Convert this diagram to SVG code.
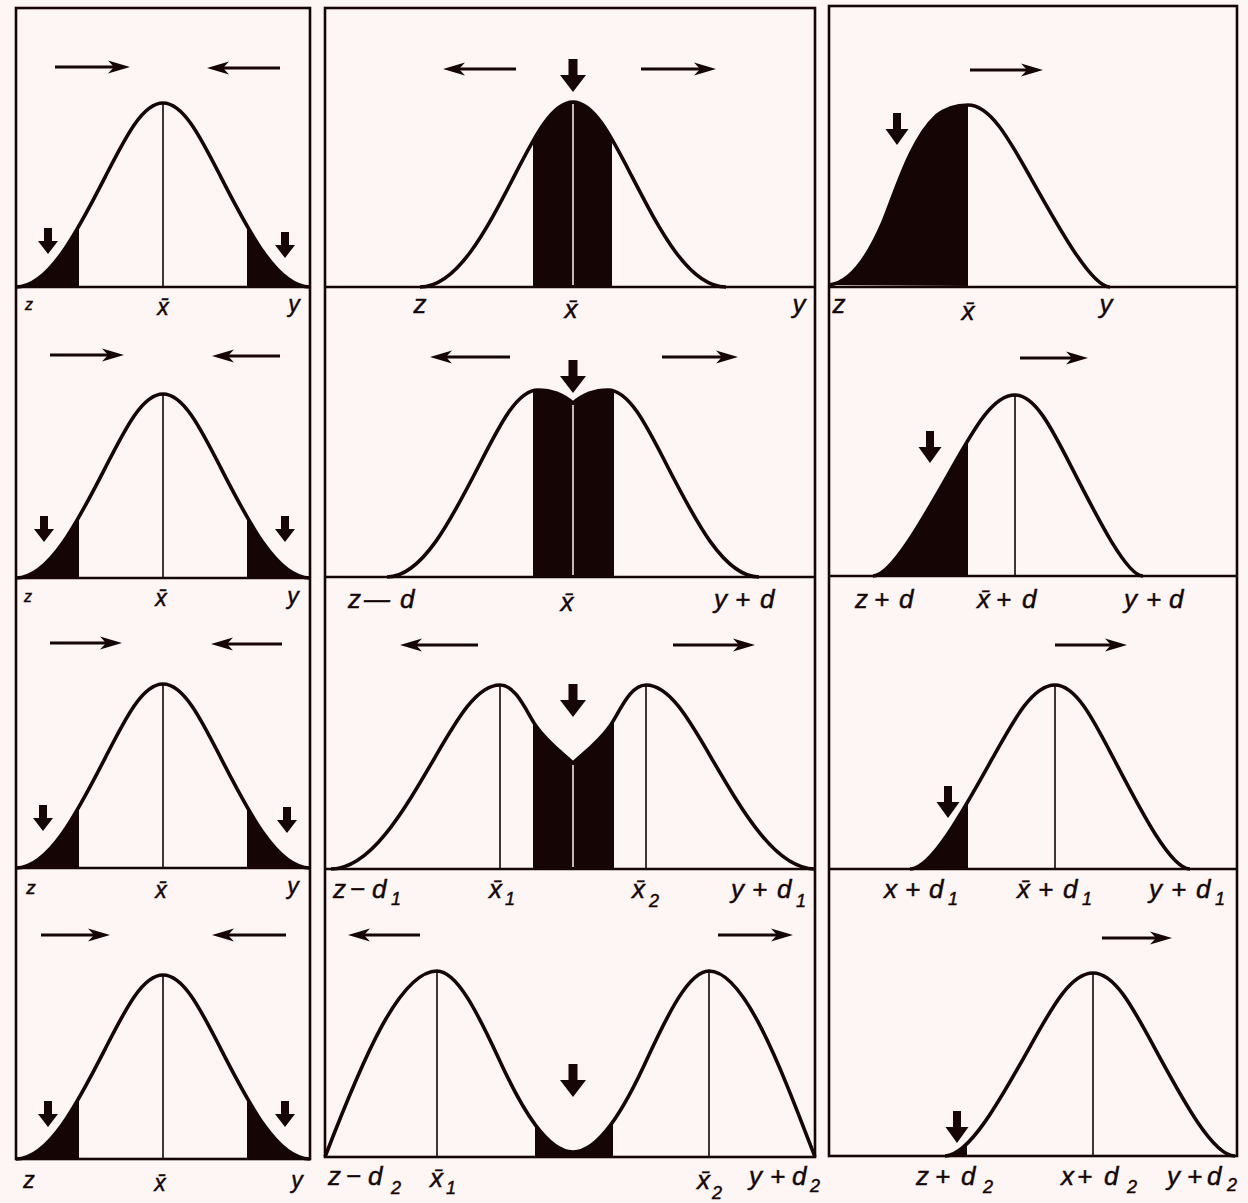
<svg xmlns="http://www.w3.org/2000/svg" width="1248" height="1203" viewBox="0 0 1248 1203">
<style>
.frame{fill:none;stroke:#150505;stroke-width:2.6}
.rule{stroke:#150505;stroke-width:2.6}
.curve{fill:none;stroke:#150505;stroke-width:3.6;stroke-linejoin:round}
.shade{fill:#150505;stroke:none}
.mean{stroke:#150505;stroke-width:1.6}
.gap{stroke:#f6e4e4;stroke-width:1.6}
.harrow{stroke:#150505;stroke-width:3;fill:none;marker-end:url(#ah)}
.dn{fill:#150505}
.lbl{font-family:"Liberation Sans",Arial,sans-serif;font-style:italic;font-size:26px;fill:#150505;stroke:#150505;stroke-width:0.45}
.sm{font-size:16px}
.md{font-size:23px}
.sub{font-size:18px}
</style>
<defs>
<marker id="ah" viewBox="-22 -7 24 14" refX="-8" refY="0" markerWidth="24" markerHeight="14" markerUnits="userSpaceOnUse" orient="auto">
<path d="M0,0 L-22,-6.5 L-16,0 L-22,6.5 Z" fill="#150505"/>
</marker>
<path id="dnS" d="M-4,-26 H4 V-13 H10 L0,0 L-10,-13 H-4 Z"/>
<path id="dnM" d="M-4,-32 H4 V-16 H11.5 L0,0 L-11.5,-16 H-4 Z"/>
<path id="dnL" d="M-4.5,-33 H4.5 V-17 H13 L0,0 L-13,-17 H-4.5 Z"/>
<path id="b1" d="M-147,0 C-114,0 -85.5,-56 -57,-111.7 C-37,-150.9 -20.1,-184 0,-184 C20.1,-184 37,-150.9 57,-111.7 C85.5,-56 114,0 147,0"/>
<path id="b21" d="M-153,0 C-116,0 -87,-56.2 -58,-112.3 C-37.7,-151.7 -20.5,-185 0,-185 C20.5,-185 37.7,-151.7 58,-112.3 C87,-56.2 116,0 153,0"/>
<path id="b22" d="M-186,0 C-151,0 -122,-56.8 -93,-113.5 C-72.7,-153.3 -55.5,-187 -35,-187 C-20,-187 -8,-181 0,-174 C8,-181 20,-187 35,-187 C55.5,-187 72.7,-153.3 93,-113.5 C122,-56.8 151,0 186,0"/>
<path id="b23" d="M-242,0 C-203,0 -170.5,-55.9 -138,-111.7 C-115.3,-150.9 -96,-184 -73,-184 C-57,-184 -47,-158 -37,-143 C-26,-127 -12,-117 0,-106 C12,-117 26,-127 37,-143 C47,-158 57,-184 73,-184 C96,-184 115.3,-150.9 138,-111.7 C170.5,-55.9 203,0 242,0"/>
<path id="b24" d="M-248,0 C-210.7,-97 -173.3,-186 -136,-186 C-116,-186 -95,-143 -75,-100 C-50,-45 -25,-5 0,-5 C25,-5 50,-45 75,-100 C95,-143 116,-186 136,-186 C171.3,-186 206.7,-92 242,0"/>
<path id="b31" d="M-139,-2 C-118,-4 -100,-30 -85,-65 C-72,-97 -57,-148 -32,-171 C-21,-180 -11,-182 0,-182 C21.9,-182 40.3,-149.2 62,-110.5 C93,-55.3 124,0 142,0"/>
<path id="b32" d="M-142,0 C-124,0 -93,-55 -62,-109.9 C-40.3,-148.4 -21.9,-181 0,-181 C19.8,-181 36.4,-148.4 56,-109.9 C84,-55 112,0 128,0"/>
<path id="b33" d="M-145,0 C-124,0 -93,-55.9 -62,-111.7 C-40.3,-150.9 -21.9,-184 0,-184 C20.5,-184 37.7,-150.9 58,-111.7 C87,-55.9 116,0 135,0"/>
<path id="b34" d="M-148,0 C-124,0 -93,-55.6 -62,-111.1 C-40.3,-150.1 -21.9,-183 0,-183 C21.2,-183 39,-150.1 60,-111.1 C90,-55.6 120,0 142,0"/>
<clipPath id="cT1"><rect x="-160" y="-200" width="76" height="200"/><rect x="84" y="-200" width="76" height="200"/></clipPath>
<clipPath id="c21"><rect x="-40" y="-200" width="79" height="200"/></clipPath>
<clipPath id="c22"><rect x="-40" y="-200" width="81" height="200"/></clipPath>
<clipPath id="c23"><rect x="-40" y="-200" width="81" height="200"/></clipPath>
<clipPath id="c24"><rect x="-38" y="-200" width="78" height="200"/></clipPath>
<clipPath id="c31"><rect x="-150" y="-200" width="150" height="200"/></clipPath>
<clipPath id="c32"><rect x="-150" y="-200" width="103" height="200"/></clipPath>
<clipPath id="c33"><rect x="-150" y="-200" width="63" height="200"/></clipPath>
<clipPath id="c34"><rect x="-160" y="-200" width="34" height="200"/></clipPath>
</defs>

<rect x="0" y="0" width="1248" height="1203" fill="#fdf6f5"/>

<g id="frames">
<rect class="frame" x="16" y="8" width="294" height="1151"/>
<line class="rule" x1="16" y1="287" x2="310" y2="287"/>
<line class="rule" x1="16" y1="578" x2="310" y2="578"/>
<line class="rule" x1="16" y1="868" x2="310" y2="868"/>
<rect class="frame" x="325" y="8" width="490" height="1149"/>
<line class="rule" x1="325" y1="287" x2="815" y2="287"/>
<line class="rule" x1="325" y1="577" x2="815" y2="577"/>
<line class="rule" x1="325" y1="869" x2="815" y2="869"/>
<rect class="frame" x="829" y="6" width="408" height="1150"/>
<line class="rule" x1="829" y1="287" x2="1237" y2="287"/>
<line class="rule" x1="829" y1="576" x2="1237" y2="576"/>
<line class="rule" x1="829" y1="869" x2="1237" y2="869"/>
</g>

<!-- Column 1 -->
<g id="panel-r1c1">
<g transform="translate(163,287)">
<use href="#b1" class="shade" clip-path="url(#cT1)"/>
<use href="#b1" class="curve"/>
<line class="mean" x1="0" y1="-184" x2="0" y2="0"/>
</g>
<path class="harrow" d="M55,67 H122"/>
<path class="harrow" d="M280,68 H215"/>
<use href="#dnS" class="dn" x="48" y="254"/>
<use href="#dnS" class="dn" x="285" y="258"/>
<text class="lbl sm" x="29" y="310" text-anchor="middle">z</text>
<text class="lbl md" x="163" y="315" text-anchor="middle">x̄</text>
<text class="lbl md" x="294" y="312" text-anchor="middle">y</text>
</g>

<g id="panel-r2c1">
<g transform="translate(163,578)">
<use href="#b1" class="shade" clip-path="url(#cT1)"/>
<use href="#b1" class="curve"/>
<line class="mean" x1="0" y1="-184" x2="0" y2="0"/>
</g>
<path class="harrow" d="M50,355 H116"/>
<path class="harrow" d="M280,356 H220"/>
<use href="#dnS" class="dn" x="44" y="542"/>
<use href="#dnS" class="dn" x="285" y="542"/>
<text class="lbl sm" x="28" y="602" text-anchor="middle">z</text>
<text class="lbl md" x="161" y="606" text-anchor="middle">x̄</text>
<text class="lbl md" x="293" y="604" text-anchor="middle">y</text>
</g>

<g id="panel-r3c1">
<g transform="translate(163,868)">
<use href="#b1" class="shade" clip-path="url(#cT1)"/>
<use href="#b1" class="curve"/>
<line class="mean" x1="0" y1="-184" x2="0" y2="0"/>
</g>
<path class="harrow" d="M50,643 H114"/>
<path class="harrow" d="M282,644 H219"/>
<use href="#dnS" class="dn" x="43" y="831"/>
<use href="#dnS" class="dn" x="287" y="833"/>
<text class="lbl" style="font-size:19px" x="31" y="894" text-anchor="middle">z</text>
<text class="lbl md" x="161" y="898" text-anchor="middle">x̄</text>
<text class="lbl md" x="293" y="894" text-anchor="middle">y</text>
</g>

<g id="panel-r4c1">
<g transform="translate(163,1159)">
<use href="#b1" class="shade" clip-path="url(#cT1)"/>
<use href="#b1" class="curve"/>
<line class="mean" x1="0" y1="-184" x2="0" y2="0"/>
</g>
<path class="harrow" d="M41,935 H102"/>
<path class="harrow" d="M286,935 H220"/>
<use href="#dnS" class="dn" x="48" y="1127"/>
<use href="#dnS" class="dn" x="285" y="1127"/>
<text class="lbl md" x="29" y="1188" text-anchor="middle">z</text>
<text class="lbl md" x="160" y="1191" text-anchor="middle">x̄</text>
<text class="lbl md" x="297" y="1188" text-anchor="middle">y</text>
</g>

<!-- Column 2 -->
<g id="panel-r1c2">
<g transform="translate(573,287)">
<use href="#b21" class="shade" clip-path="url(#c21)"/>
<use href="#b21" class="curve"/>
<line class="gap" x1="0" y1="-183" x2="0" y2="-2"/>
</g>
<path class="harrow" d="M516,69 H451"/>
<path class="harrow" d="M641,69 H708"/>
<use href="#dnL" class="dn" x="573" y="92"/>
<text class="lbl" x="420" y="313" text-anchor="middle">z</text>
<text class="lbl" x="571" y="318" text-anchor="middle">x̄</text>
<text class="lbl" x="799" y="313" text-anchor="middle">y</text>
</g>

<g id="panel-r2c2">
<g transform="translate(573,577)">
<use href="#b22" class="shade" clip-path="url(#c22)"/>
<use href="#b22" class="curve"/>
<line class="gap" x1="0" y1="-172" x2="0" y2="-2"/>
</g>
<path class="harrow" d="M510,357 H438"/>
<path class="harrow" d="M662,357 H730"/>
<use href="#dnL" class="dn" x="573" y="393"/>
<text class="lbl" y="608"><tspan x="348">z</tspan><tspan x="364">—</tspan><tspan x="400">d</tspan></text>
<text class="lbl" x="567" y="611" text-anchor="middle">x̄</text>
<text class="lbl" y="608"><tspan x="714">y</tspan><tspan x="735">+</tspan><tspan x="760">d</tspan></text>
</g>

<g id="panel-r3c2">
<g transform="translate(573,869)">
<use href="#b23" class="shade" clip-path="url(#c23)"/>
<use href="#b23" class="curve"/>
<line class="mean" x1="-73" y1="-184" x2="-73" y2="0"/>
<line class="mean" x1="73" y1="-184" x2="73" y2="0"/>
<line class="gap" x1="0" y1="-104" x2="0" y2="-2"/>
</g>
<path class="harrow" d="M478,645 H408"/>
<path class="harrow" d="M673,645 H747"/>
<use href="#dnL" class="dn" x="573" y="717"/>
<text class="lbl" y="898"><tspan x="333">z</tspan><tspan x="350">−</tspan><tspan x="372">d</tspan><tspan class="sub" x="391" y="905">1</tspan></text>
<text class="lbl" y="898"><tspan x="489">x̄</tspan><tspan class="sub" x="505" y="905">1</tspan></text>
<text class="lbl" y="898"><tspan x="632">x̄</tspan><tspan class="sub" x="649" y="907">2</tspan></text>
<text class="lbl" y="898"><tspan x="731">y</tspan><tspan x="752">+</tspan><tspan x="777">d</tspan><tspan class="sub" x="796" y="907">1</tspan></text>
</g>

<g id="panel-r4c2">
<g transform="translate(573,1157)">
<use href="#b24" class="shade" clip-path="url(#c24)"/>
<use href="#b24" class="curve"/>
<line class="mean" x1="-136" y1="-186" x2="-136" y2="0"/>
<line class="mean" x1="136" y1="-186" x2="136" y2="0"/>
</g>
<path class="harrow" d="M420,935 H356"/>
<path class="harrow" d="M718,935 H785"/>
<use href="#dnL" class="dn" x="573" y="1097"/>
<text class="lbl" y="1185"><tspan x="328">z</tspan><tspan x="346">−</tspan><tspan x="368">d</tspan><tspan class="sub" x="391" y="1194">2</tspan></text>
<text class="lbl" y="1187"><tspan x="430">x̄</tspan><tspan class="sub" x="446" y="1194">1</tspan></text>
<text class="lbl" y="1189"><tspan x="697">x̄</tspan><tspan class="sub" x="712" y="1199">2</tspan></text>
<text class="lbl" y="1185"><tspan x="749">y</tspan><tspan x="770">+</tspan><tspan x="792">d</tspan><tspan class="sub" x="810" y="1192">2</tspan></text>
</g>

<!-- Column 3 -->
<g id="panel-r1c3">
<g transform="translate(968,287)">
<use href="#b31" class="shade" clip-path="url(#c31)"/>
<use href="#b31" class="curve"/>
</g>
<path class="harrow" d="M970,70 H1035"/>
<use href="#dnM" class="dn" x="897" y="145"/>
<text class="lbl" x="839" y="313" text-anchor="middle">z</text>
<text class="lbl" x="968" y="320" text-anchor="middle">x̄</text>
<text class="lbl" x="1106" y="313" text-anchor="middle">y</text>
</g>

<g id="panel-r2c3">
<g transform="translate(1015,576)">
<use href="#b32" class="shade" clip-path="url(#c32)"/>
<use href="#b32" class="curve"/>
<line class="mean" x1="0" y1="-181" x2="0" y2="0"/>
</g>
<path class="harrow" d="M1020,358 H1080"/>
<use href="#dnM" class="dn" x="930" y="463"/>
<text class="lbl" y="608"><tspan x="855">z</tspan><tspan x="874">+</tspan><tspan x="899">d</tspan></text>
<text class="lbl" y="608"><tspan x="977">x̄</tspan><tspan x="996">+</tspan><tspan x="1022">d</tspan></text>
<text class="lbl" y="608"><tspan x="1124">y</tspan><tspan x="1146">+</tspan><tspan x="1169">d</tspan></text>
</g>

<g id="panel-r3c3">
<g transform="translate(1055,869)">
<use href="#b33" class="shade" clip-path="url(#c33)"/>
<use href="#b33" class="curve"/>
<line class="mean" x1="0" y1="-184" x2="0" y2="0"/>
</g>
<path class="harrow" d="M1055,645 H1119"/>
<use href="#dnM" class="dn" x="948" y="818"/>
<text class="lbl" y="898"><tspan x="884">x</tspan><tspan x="905">+</tspan><tspan x="929">d</tspan><tspan class="sub" x="948" y="905">1</tspan></text>
<text class="lbl" y="898"><tspan x="1017">x̄</tspan><tspan x="1038">+</tspan><tspan x="1063">d</tspan><tspan class="sub" x="1082" y="905">1</tspan></text>
<text class="lbl" y="898"><tspan x="1149">y</tspan><tspan x="1171">+</tspan><tspan x="1196">d</tspan><tspan class="sub" x="1215" y="905">1</tspan></text>
</g>

<g id="panel-r4c3">
<g transform="translate(1093,1156)">
<use href="#b34" class="shade" clip-path="url(#c34)"/>
<use href="#b34" class="curve"/>
<line class="mean" x1="0" y1="-183" x2="0" y2="0"/>
</g>
<path class="harrow" d="M1102,938 H1164"/>
<use href="#dnM" class="dn" x="957" y="1143"/>
<text class="lbl" y="1185"><tspan x="916">z</tspan><tspan x="935">+</tspan><tspan x="961">d</tspan><tspan class="sub" x="983" y="1193">2</tspan></text>
<text class="lbl" y="1185"><tspan x="1061">x</tspan><tspan x="1077">+</tspan><tspan x="1104">d</tspan><tspan class="sub" x="1127" y="1193">2</tspan></text>
<text class="lbl" y="1185"><tspan x="1167">y</tspan><tspan x="1187">+</tspan><tspan x="1207">d</tspan><tspan class="sub" x="1227" y="1191">2</tspan></text>
</g>
</svg>
